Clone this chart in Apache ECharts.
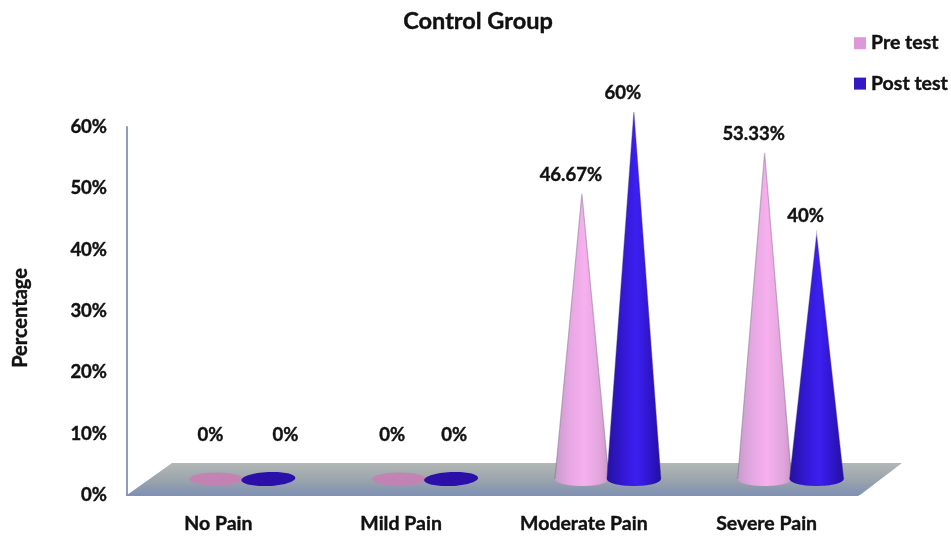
<!DOCTYPE html>
<html>
<head>
<meta charset="utf-8">
<style>html,body{margin:0;padding:0;background:#fff}#c{width:951px;height:537px}</style>
<script src="https://cdn.jsdelivr.net/npm/echarts@6/dist/echarts.min.js"></script>
</head>
<body>
<div id="c"></div>
<script>
var categories = ['No Pain', 'Mild Pain', 'Moderate Pain', 'Severe Pain'];
var preTest = [0, 0, 46.67, 53.33];
var postTest = [0, 0, 60, 40];
var tickLabels = ['0%', '10%', '20%', '30%', '40%', '50%', '60%'];

var FONT = 'Lato, "Open Sans", sans-serif';
var INK = '#111';
var zeroLabelDx = { pre: [-6, -7, 0, 0], post: [17, 3, 0, 0] };

function toPairs(arr) { return arr.map(function (v, i) { return [i, v]; }); }
function sideGradient(x, rx, stops) {
  return new echarts.graphic.LinearGradient(x - rx, 0, x + rx, 0, stops, true);
}
function boldText(size, extra) {
  var s = { fontFamily: FONT, fontWeight: 'bold', fontSize: size, color: INK, textBorderColor: INK, textBorderWidth: 0.4 };
  for (var k in (extra || {})) s[k] = extra[k];
  return s;
}
function coneRenderer(opts) {
  return function (params, api) {
    var i = api.value(0), v = api.value(1);
    var zero = api.coord([0, 0]);
    var top = api.coord([i, v]);
    var x = top[0] + opts.dx;
    var rx = 27, baseY = zero[1] - 16, tipY = top[1] - 15;
    var children = [];
    var text = v + '%', lx, ly;
    if (v === 0) {
      children.push({
        type: 'ellipse',
        shape: { cx: 0, cy: 0, rx: rx, ry: opts.flatRy },
        x: x, y: baseY, rotation: opts.flatTilt,
        style: { fill: opts.flat, opacity: opts.flatOpacity }
      });
      lx = x + zeroLabelDx[opts.key][i];
      ly = api.coord([0, 10])[1] + 1;
    } else {
      var grad = sideGradient(x, rx, opts.stops);
      children.push({
        type: 'ellipse',
        shape: { cx: x, cy: baseY, rx: rx, ry: 7 },
        style: { fill: grad }
      });
      children.push({
        type: 'polygon',
        shape: { points: [[x, tipY], [x + rx, baseY], [x - rx, baseY]] },
        style: { fill: grad }
      });
      children.push({
        type: 'polyline',
        shape: { points: [[x - rx, baseY], [x, tipY], [x + rx, baseY]] },
        style: { fill: null, stroke: opts.edge, lineWidth: 1.2 }
      });
      lx = x - 11;
      ly = tipY - 18.5;
    }
    children.push({
      type: 'text',
      style: {
        text: text, x: lx, y: ly, align: 'center', verticalAlign: 'middle',
        fill: INK, stroke: INK, lineWidth: 0.4, font: 'bold 18.5px ' + FONT
      }
    });
    return { type: 'group', children: children };
  };
}

var chart = echarts.init(document.getElementById('c'), null, { renderer: 'canvas' });
chart.setOption({
  animation: false,
  backgroundColor: '#fff',
  title: {
    text: 'Control Group', left: 478, top: 9, textAlign: 'center', padding: 0,
    textStyle: boldText(23.5)
  },
  legend: {
    orient: 'vertical', left: 854, top: 33, padding: 0, itemWidth: 12, itemHeight: 12, itemGap: 20,
    icon: 'rect', data: ['Pre test', 'Post test'],
    textStyle: boldText(19.5, { padding: [0, 0, 0, 0] })
  },
  grid: { left: 127, right: 93, top: 127, bottom: 42, outerBoundsMode: 'none' },
  xAxis: {
    type: 'category', data: categories,
    axisTick: { show: false },
    axisLine: { lineStyle: { color: '#7f8fc0', width: 2 } },
    axisLabel: boldText(19.5, { margin: 19 })
  },
  yAxis: {
    type: 'value', min: 0, max: 60, interval: 10,
    name: 'Percentage', nameLocation: 'middle', nameGap: 96, nameRotate: 90,
    nameTextStyle: boldText(20, { padding: [0, 14, 0, 0] }),
    splitLine: { show: false },
    axisTick: { show: false },
    axisLine: { show: true, lineStyle: { color: '#8e9cc0', width: 2 } },
    axisLabel: boldText(18.5, {
      margin: 20, padding: [6, 0, 0, 0],
      formatter: function (v) { return tickLabels[v / 10]; }
    })
  },
  series: [
    {
      type: 'custom', name: 'floor', z: 1, silent: true, clip: false,
      data: [[0, 0]],
      renderItem: function (params) {
        var c = params.coordSys;
        var fy = c.y + c.height;
        return {
          type: 'polygon',
          shape: { points: [[c.x, fy], [c.x + c.width + 2, fy], [c.x + c.width + 44, fy - 32], [c.x + 45, fy - 32]] },
          style: {
            fill: new echarts.graphic.LinearGradient(0, 0, 0, 1, [
              { offset: 0, color: '#b3b7b7' },
              { offset: 0.5, color: '#9ca6ac' },
              { offset: 1, color: '#7f90b4' }
            ])
          }
        };
      }
    },
    {
      type: 'custom', name: 'Pre test', z: 2, clip: false,
      itemStyle: { color: '#dc98d8' },
      data: toPairs(preTest),
      renderItem: coneRenderer({
        key: 'pre', dx: -2, flat: '#c67fb4', flatOpacity: 0.9, flatRy: 6.5, flatTilt: 0,
        edge: 'rgba(120,105,135,0.45)',
        stops: [
          { offset: 0, color: '#c89ccc' }, { offset: 0.3, color: '#e8a8e4' },
          { offset: 0.55, color: '#f6b0ee' }, { offset: 0.85, color: '#e0a4dc' },
          { offset: 1, color: '#c898c8' }
        ]
      })
    },
    {
      type: 'custom', name: 'Post test', z: 3, clip: false,
      itemStyle: { color: '#3418c4' },
      data: toPairs(postTest),
      renderItem: coneRenderer({
        key: 'post', dx: 50, flat: '#2a10a8', flatOpacity: 1, flatRy: 7, flatTilt: 0.05,
        edge: 'rgba(60,40,140,0.4)',
        stops: [
          { offset: 0, color: '#2412a0' }, { offset: 0.3, color: '#3318d4' },
          { offset: 0.55, color: '#3c20f0' }, { offset: 0.85, color: '#2c14c0' },
          { offset: 1, color: '#24109c' }
        ]
      })
    }
  ]
});
</script>
</body>
</html>
